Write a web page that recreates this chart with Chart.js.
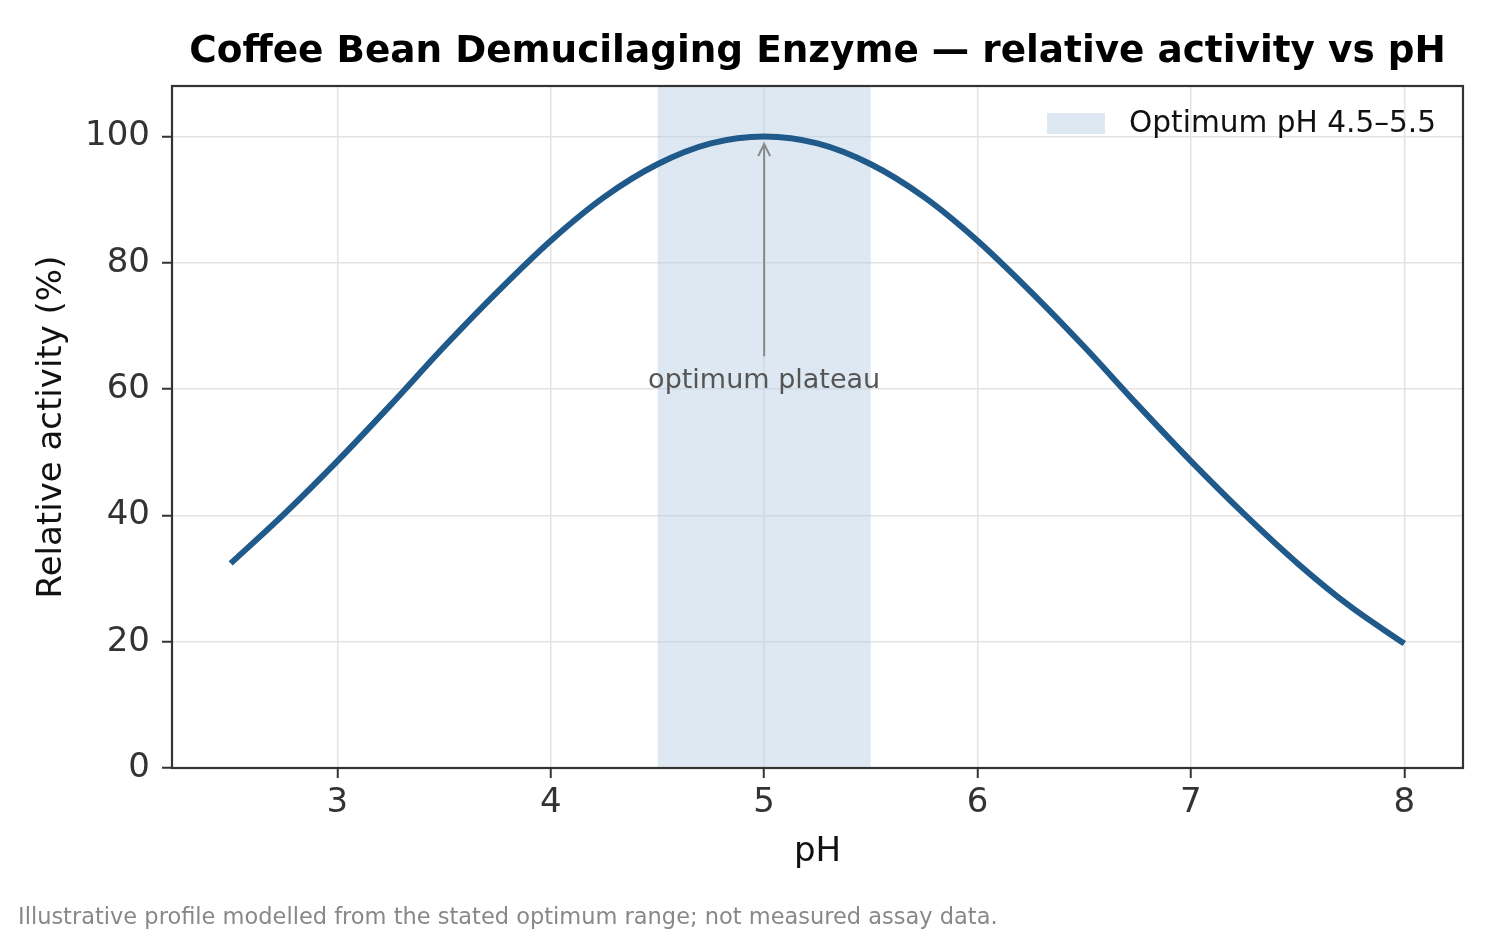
<!DOCTYPE html>
<html>
<head>
<meta charset="utf-8">
<script src="https://cdn.jsdelivr.net/npm/chart.js@4.4.0/dist/chart.umd.min.js"></script>
<style>
  body { margin: 0; background: #fff; }
  #wrap { width: 1500px; height: 937px; }
</style>
</head>
<body>
<div id="wrap"><canvas id="phChart" width="1500" height="937"></canvas></div>
<script>
const phValues = [2.5, 2.75, 3.0, 3.25, 3.5, 3.75, 4.0, 4.25, 4.5, 4.75, 5.0, 5.25, 5.5, 5.75, 6.0, 6.25, 6.5, 6.75, 7.0, 7.25, 7.5, 7.75, 8.0];
const activity = [32.4, 40.2, 48.6, 57.5, 66.7, 75.4, 83.5, 90.4, 95.6, 98.9, 100, 98.9, 95.6, 90.4, 83.5, 75.4, 66.7, 57.5, 48.6, 40.2, 32.4, 25.5, 19.7];
const xTicks = [3, 4, 5, 6, 7, 8];
const yTicks = [0, 20, 40, 60, 80, 100];
const bandRange = [4.5, 5.5];
const bandLabel = 'Optimum pH 4.5–5.5';
const annotation = { x: 5, tail: 65.2, tip: 98.8, textY: 61.3, text: 'optimum plateau' };

const FONT = "'DejaVu Sans', sans-serif";
const yMax = 108;

// frame, title, legend, note, arrow
const extras = {
    id: 'extras',
    afterDatasetsDraw(chart) {
        const ctx = chart.ctx;
        const xs = chart.scales.x, ys = chart.scales.y;
        const ax = xs.getPixelForValue(annotation.x);
        const yTail = ys.getPixelForValue(annotation.tail);
        const yTip = ys.getPixelForValue(annotation.tip);
        ctx.save();
        ctx.strokeStyle = '#888';
        ctx.lineWidth = 2;
        ctx.beginPath();
        ctx.moveTo(ax, yTail);
        ctx.lineTo(ax, yTip);
        ctx.moveTo(ax - 6, yTip + 12);
        ctx.lineTo(ax, yTip);
        ctx.lineTo(ax + 6, yTip + 12);
        ctx.stroke();
        ctx.fillStyle = '#555';
        ctx.font = '27px ' + FONT;
        ctx.textAlign = 'center';
        ctx.textBaseline = 'middle';
        ctx.fillText(annotation.text, ax, ys.getPixelForValue(annotation.textY));
        ctx.restore();
    },
    afterDraw(chart) {
        const ctx = chart.ctx;
        const a = chart.chartArea;
        ctx.save();
        ctx.strokeStyle = '#333';
        ctx.lineWidth = 2.2;
        ctx.strokeRect(a.left, a.top, a.right - a.left, a.bottom - a.top);

        ctx.fillStyle = '#000';
        ctx.font = 'bold 37.4px ' + FONT;
        ctx.textAlign = 'center';
        ctx.textBaseline = 'middle';
        ctx.fillText('Coffee Bean Demucilaging Enzyme — relative activity vs pH', (a.left + a.right) / 2, 52);

        // legend
        const band = chart.data.datasets[1];
        ctx.fillStyle = band.backgroundColor;
        ctx.fillRect(a.right - 416, a.top + 27, 58, 21);
        ctx.fillStyle = '#111';
        ctx.font = '29.6px ' + FONT;
        ctx.textAlign = 'left';
        ctx.fillText(band.label, a.right - 334, a.top + 38);

        ctx.fillStyle = '#888';
        ctx.font = '22.5px ' + FONT;
        ctx.fillText('Illustrative profile modelled from the stated optimum range; not measured assay data.', 18, 918);
        ctx.restore();
    }
};

new Chart(document.getElementById('phChart'), {
    type: 'line',
    data: {
        datasets: [
            {
                label: 'Relative activity',
                data: phValues.map((p, i) => ({ x: p, y: activity[i] })),
                borderColor: '#1f5a8a',
                borderWidth: 6,
                pointRadius: 0,
                cubicInterpolationMode: 'monotone',
                fill: false,
                order: 1
            },
            {
                label: bandLabel,
                data: bandRange.map(p => ({ x: p, y: yMax })),
                borderWidth: 0,
                borderColor: 'rgba(0,0,0,0)',
                backgroundColor: 'rgba(179, 205, 227, 0.45)',
                pointRadius: 0,
                fill: 'origin',
                order: 2
            }
        ]
    },
    options: {
        responsive: false,
        animation: false,
        layout: { padding: { top: 86, right: 37, bottom: 0, left: 0 } },
        plugins: {
            legend: { display: false },
            tooltip: { enabled: false }
        },
        scales: {
            x: {
                type: 'linear',
                min: 2.225,
                max: 8.275,
                afterFit: s => { s.height = 169; },
                afterBuildTicks: s => { s.ticks = xTicks.map(v => ({ value: v })); },
                grid: { color: '#e3e3e3', lineWidth: 1.5, tickColor: '#333', tickLength: 10, tickWidth: 2 },
                border: { display: false },
                ticks: { color: '#333', font: { family: FONT, size: 34 }, padding: 5, maxRotation: 0 },
                title: { display: true, text: 'pH', color: '#111', font: { family: FONT, size: 34 }, padding: { top: 0, bottom: 64 } }
            },
            y: {
                min: 0,
                max: yMax,
                afterFit: s => { s.width = 172; },
                afterBuildTicks: s => { s.ticks = yTicks.map(v => ({ value: v })); },
                grid: { color: '#e3e3e3', lineWidth: 1.5, tickColor: '#333', tickLength: 10, tickWidth: 2 },
                border: { display: false },
                ticks: { color: '#333', font: { family: FONT, size: 34 }, padding: 12 },
                title: { display: true, text: 'Relative activity (%)', color: '#111', font: { family: FONT, size: 34 }, padding: { top: 32, bottom: 0 } }
            }
        }
    },
    plugins: [extras]
});
</script>
</body>
</html>
